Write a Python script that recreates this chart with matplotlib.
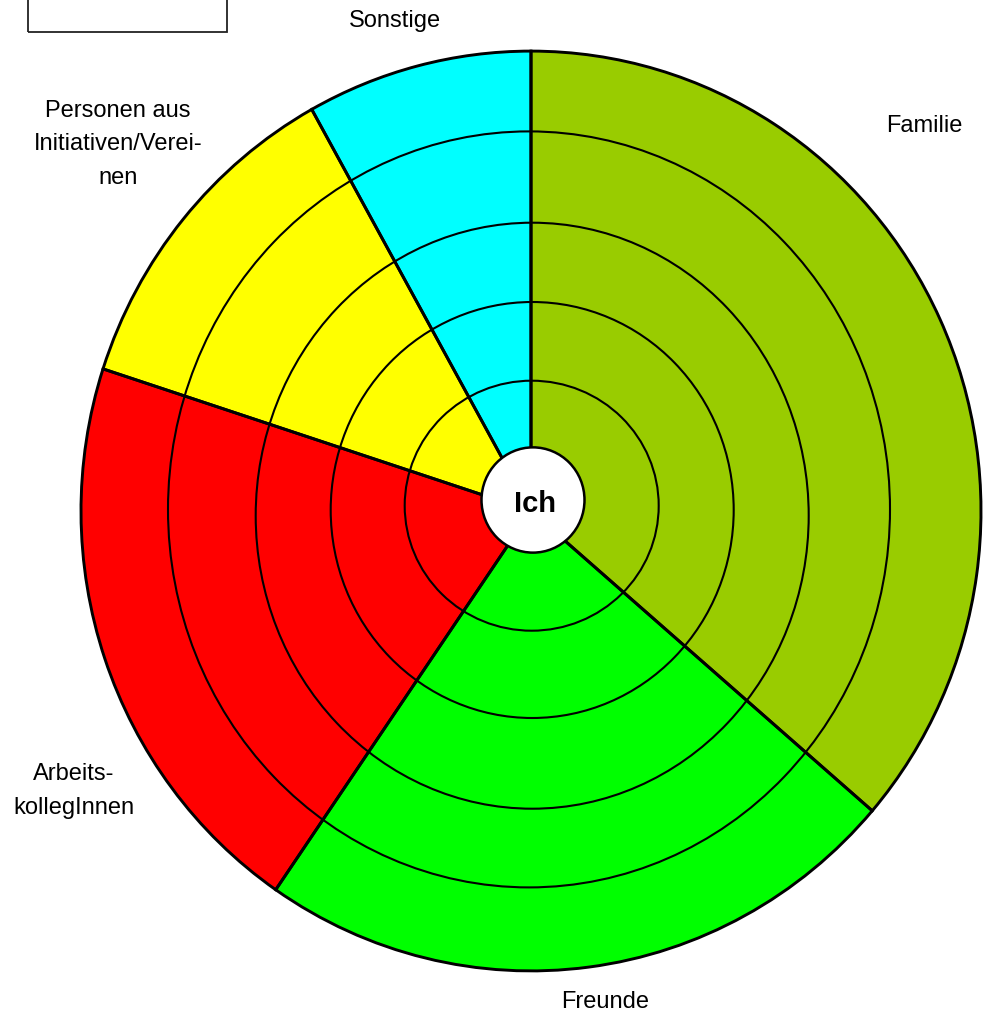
import matplotlib
matplotlib.use("Agg")
import matplotlib.pyplot as plt
from matplotlib.patches import Circle, Ellipse, Rectangle

plt.rcParams['font.family'] = ['Liberation Sans', 'DejaVu Sans']

# Data (percent shares, clockwise from 12 o'clock)
categories = ["Familie", "Freunde", "Arbeits-\nkollegInnen",
              "Personen aus\nInitiativen/Verei-\nnen", "Sonstige"]
values = [36.3, 23.3, 20.4, 11.9, 8.1]
colors = ["#99CC00", "#00FF00", "#FF0000", "#FFFF00", "#00FFFF"]
center_label = "Ich"

W, H = 984, 1014
s = 1.022  # slight vertical stretch of the drawing
fig = plt.figure(figsize=(W / 100, H / 100), dpi=100)
ax = fig.add_axes([0, 0, 1, 1])

cx, cy = 531, (H - 511) / s
R = 450

# concentric guide rings (pixel centre x, centre y, radius x, radius y)
rings = [(531.7, 505.7, 127, 125),
         (532.2, 510.0, 201.5, 208),
         (532.2, 515.7, 276.5, 293),
         (529.0, 509.4, 361, 378)]

ax.pie(values, colors=colors, startangle=90, counterclock=False, radius=R,
       center=(cx, cy), wedgeprops=dict(linewidth=0, edgecolor='none'))
for (rx0, ry0, rx, ry) in rings:
    ax.add_patch(Ellipse((rx0, (H - ry0) / s), 2 * rx, 2 * ry / s, fill=False,
                         edgecolor='black', linewidth=1.5, zorder=2))
ax.pie(values, colors=['none'] * len(values), startangle=90, counterclock=False,
       radius=R, center=(cx, cy),
       wedgeprops=dict(linewidth=2.1, edgecolor='black', zorder=3))

ax.add_patch(Circle((533, (H - 500) / s), 51.5, facecolor='white',
                    edgecolor='black', linewidth=1.8, zorder=4))
ax.text(534.5, (H - 503.5) / s, center_label, ha='center', va='center',
        fontsize=21, fontweight='bold', zorder=5)

ax.set_aspect('auto')
ax.set_xlim(0, W)
ax.set_ylim(0, H / s)
ax.axis('off')

# Category labels (positions in pixels: x centre, baseline of last line)
label_pos = {
    "Familie": (924, 131.5),
    "Freunde": (605.5, 1008),
    "Arbeits-\nkollegInnen": (74, 814),
    "Personen aus\nInitiativen/Verei-\nnen": (118, 184),
    "Sonstige": (394.5, 27.3),
}
for cat in categories:
    x, y = label_pos[cat]
    fig.text(x / W, 1 - y / H, cat, ha='center', va='baseline',
             fontsize=17, linespacing=1.68, multialignment='center')

# empty box at top-left
fig.add_artist(Rectangle((28 / W, 1 - 31.7 / H), 199 / W, 40 / H,
                         transform=fig.transFigure, fill=False,
                         edgecolor='#222222', linewidth=1.3))

fig.savefig("out.png", dpi=100)
